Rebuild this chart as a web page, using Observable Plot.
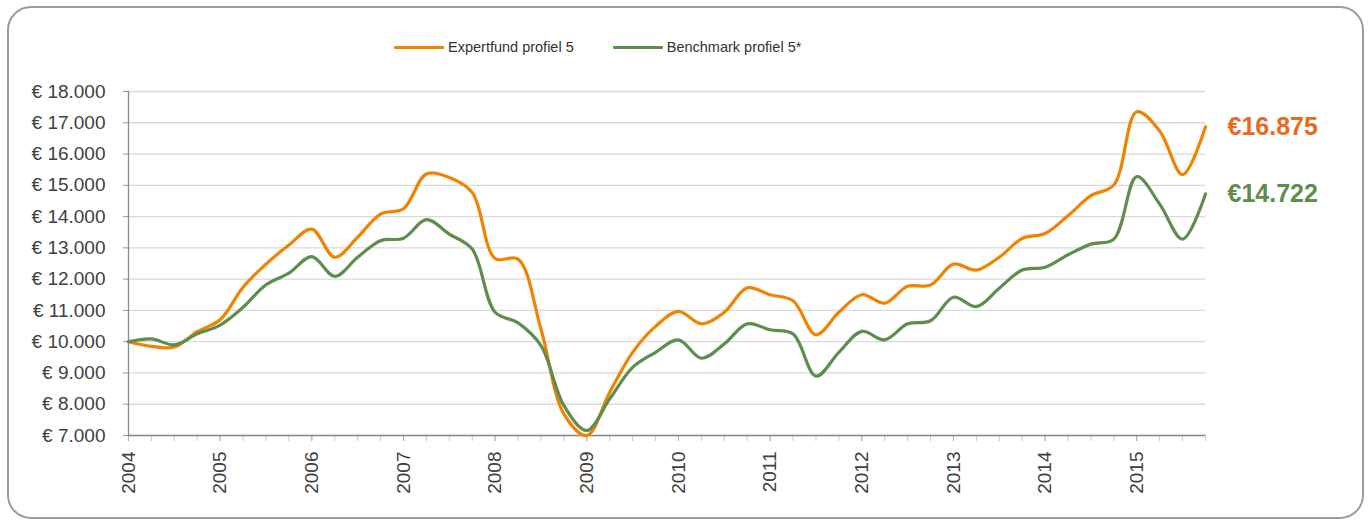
<!DOCTYPE html>
<html>
<head>
<meta charset="utf-8">
<script src="https://cdn.jsdelivr.net/npm/d3@7"></script>
<script src="https://cdn.jsdelivr.net/npm/@observablehq/plot@0.6"></script>
<style>
  html, body { margin: 0; padding: 0; background: #fff; }
  #wrap { position: relative; width: 1370px; height: 526px; overflow: hidden; font-family: "Liberation Sans", Arial, sans-serif; }
  #frame { position: absolute; left: 7px; top: 6px; width: 1357px; height: 513px; border: 2px solid #9c9c9c; border-radius: 24px; box-sizing: border-box; }
  #legend { position: absolute; top: 39px; left: 394px; font-size: 14.5px; color: #333; display: flex; align-items: center; }
  .item { display: flex; align-items: center; margin-right: 39px; }
  .swatch { display: inline-block; width: 50px; height: 3px; margin-right: 4px; border-radius: 1px; }
  #chart { position: absolute; left: 0; top: 0; }
</style>
</head>
<body>
<div id="wrap">
  <div id="frame"></div>
  <div id="chart"></div>
  <div id="legend"></div>
</div>
<script>
// ---- data ----
const startYear = 2004;
const years = [2004, 2005, 2006, 2007, 2008, 2009, 2010, 2011, 2012, 2013, 2014, 2015];
const seriesNames = ["Expertfund profiel 5", "Benchmark profiel 5*"];
const expertfund = [
  10000, 9850, 9830, 10320, 10700, 11740, 12480, 13090, 13600, 12700, 13340, 14080,
  14250, 15360, 15250, 14770, 12660, 12640, 10400, 7690, 7000, 8380, 9660, 10490,
  10970, 10570, 10940, 11720, 11500, 11310, 10220, 10940, 11500, 11230, 11770, 11810,
  12480, 12290, 12700, 13300, 13460, 14030, 14670, 15010, 17350, 16740, 15340, 16875
];
const benchmark = [
  10000, 10090, 9900, 10250, 10530, 11100, 11820, 12190, 12720, 12090, 12700, 13230,
  13310, 13900, 13440, 12960, 10940, 10600, 9870, 7960, 7160, 8170, 9180, 9660,
  10060, 9470, 9930, 10570, 10380, 10250, 8900, 9660, 10330, 10060, 10570, 10670,
  11420, 11120, 11710, 12290, 12380, 12780, 13120, 13280, 15280, 14400, 13280, 14722
];
const endLabels = ["€16.875", "€14.722"];
const yTicks = [7000, 8000, 9000, 10000, 11000, 12000, 13000, 14000, 15000, 16000, 17000, 18000];
const lineColors = ["#f08300", "#5e8d4e"];
const labelColors = ["#ea6a1c", "#5e8d4e"];

// ---- build table ----
const seriesValues = [expertfund, benchmark];
const rows = [];
seriesValues.forEach((vals, s) => vals.forEach((v, i) => rows.push({ t: startYear + i / 4, v, s: seriesNames[s] })));
const quarterTicks = expertfund.map((_, i) => startYear + i / 4);
const lastT = quarterTicks[quarterTicks.length - 1];
const ends = seriesValues.map((vals, s) => ({ t: lastT, v: vals[vals.length - 1], label: endLabels[s], s }));

const euro = d => "€ " + d3.format(",")(d).replace(/,/g, ".");

const chart = Plot.plot({
  width: 1370,
  height: 526,
  marginLeft: 128,
  marginRight: 165,
  marginTop: 91,
  marginBottom: 91,
  style: { fontFamily: "'Liberation Sans', Arial, sans-serif", color: "#404040", background: "transparent", overflow: "visible" },
  x: { domain: [startYear, lastT] },
  y: { domain: [7000, 18000] },
  marks: [
    Plot.gridY(yTicks, { stroke: "#d9d9d9", strokeOpacity: 1, strokeWidth: 1.3 }),
    Plot.axisY(yTicks, { tickSize: 5, stroke: "#9a9a9a", tickPadding: 18, fontSize: 19, tickFormat: euro, label: null }),
    Plot.axisX(quarterTicks, { tickSize: 6, stroke: "#c8c8c8", tickFormat: () => "", label: null }),
    Plot.axisX(years, { tickSize: 6, stroke: "#b0b0b0", tickRotate: -90, tickPadding: 10, fontSize: 19, tickFormat: d => String(d), label: null }),
    Plot.ruleX([startYear], { stroke: "#8a8a8a", strokeWidth: 1.3 }),
    Plot.ruleY([7000], { stroke: "#8a8a8a", strokeWidth: 1.3 }),
    Plot.line(rows, { x: "t", y: "v", z: "s", stroke: d => d.s === seriesNames[0] ? lineColors[0] : lineColors[1], strokeWidth: 3.2, curve: "catmull-rom" }),
    Plot.text(ends, { x: "t", y: "v", text: "label", fill: d => labelColors[d.s], dx: 22, textAnchor: "start", fontSize: 25, fontWeight: "bold" })
  ]
});
document.getElementById("chart").appendChild(chart);

// ---- legend ----
const legend = document.getElementById("legend");
seriesNames.forEach((name, i) => {
  const item = document.createElement("div");
  item.className = "item";
  const sw = document.createElement("span");
  sw.className = "swatch";
  sw.style.background = lineColors[i];
  const tx = document.createElement("span");
  tx.textContent = name;
  item.appendChild(sw);
  item.appendChild(tx);
  legend.appendChild(item);
});
</script>
</body>
</html>
